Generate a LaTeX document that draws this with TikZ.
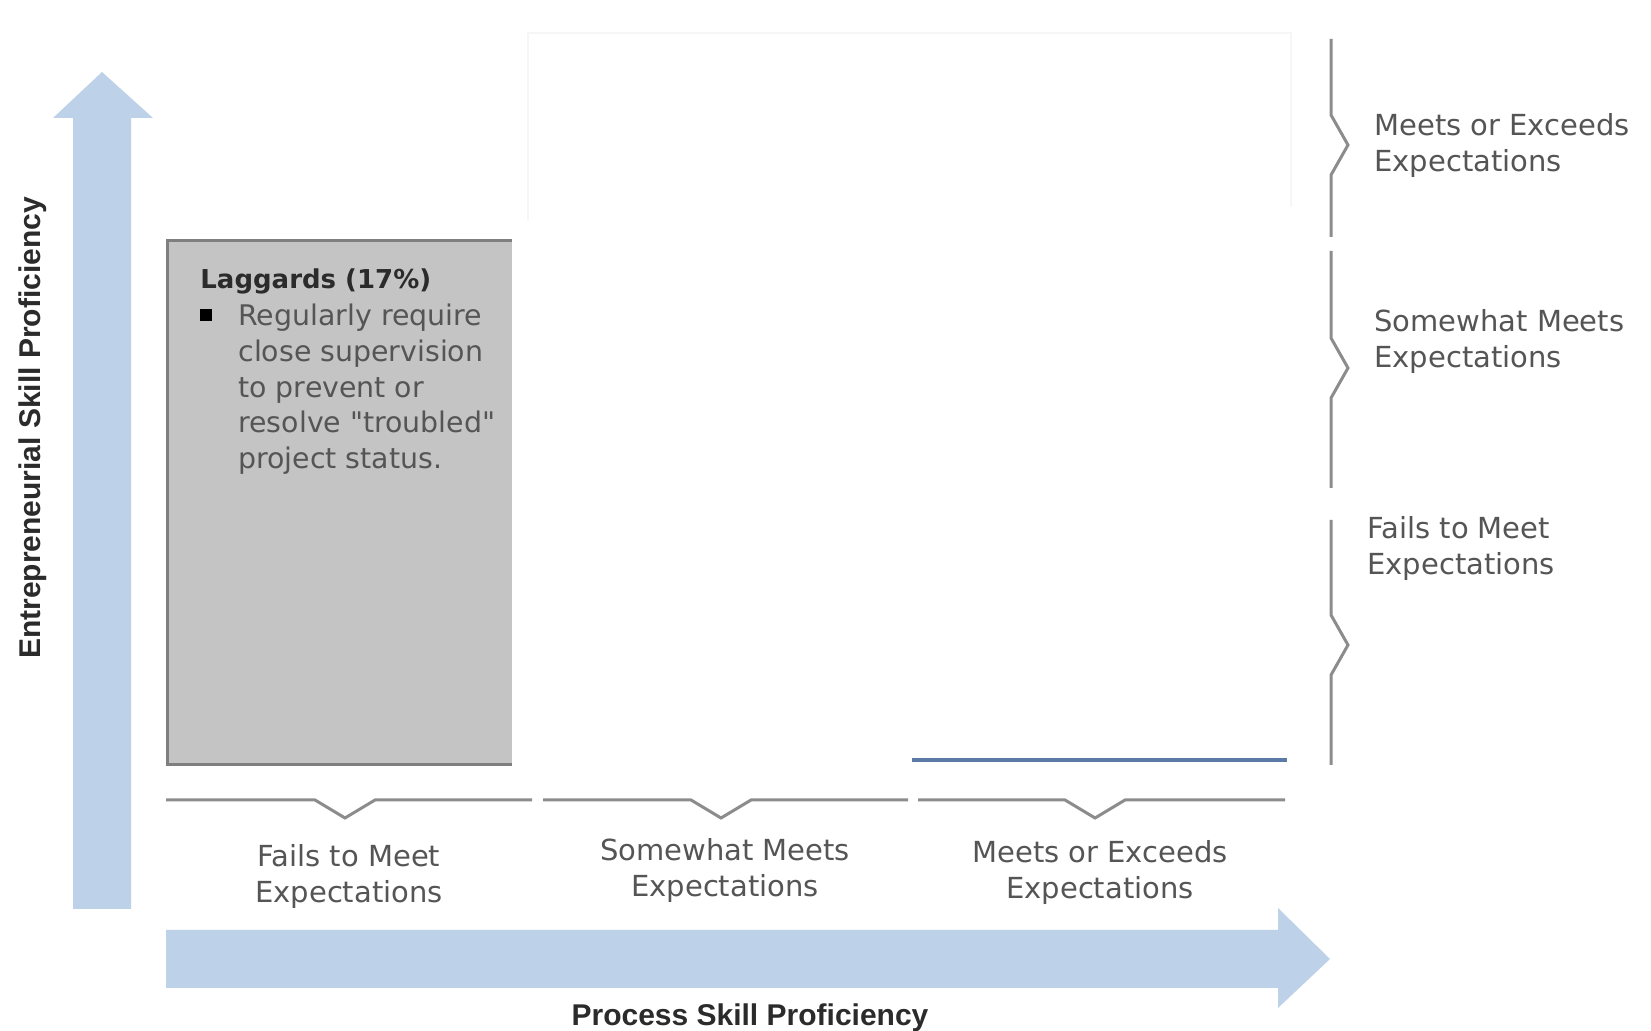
\documentclass[tikz,border=0pt]{standalone}
\usepackage{fontspec}
\setmainfont{DejaVu Sans}
\newfontfamily\axisfont{Liberation Sans}
\definecolor{axisblue}{HTML}{BDD1E9}
\definecolor{bracegray}{HTML}{8C8C8C}
\definecolor{boxfill}{HTML}{C4C4C4}
\definecolor{boxedge}{HTML}{7F7F7F}
\definecolor{labgray}{HTML}{555555}
\definecolor{darktext}{HTML}{2B2B2B}
\definecolor{steel}{HTML}{5B7BA6}
\definecolor{faint}{HTML}{F6F6F6}
\tikzset{
  axisarrow/.style={fill=axisblue, draw=none},
  bracket/.style={draw=bracegray, line width=1.5pt, line join=miter},
  scalelab/.style={text=labgray, font=\fontsize{14.5}{18}\selectfont, inner sep=0pt},
  axislab/.style={text=darktext, font=\axisfont\bfseries\fontsize{15}{18}\selectfont, inner sep=0pt},
}
\begin{document}
\begin{tikzpicture}[x=0.5pt, y=-0.5pt]
\useasboundingbox (0,0) rectangle (1651,1031);
\fill[white] (0,0) rectangle (1651,1031);

% faint outline of empty quadrants
\draw[faint, line width=0.8pt] (528,220) -- (528,33) -- (1291,33) -- (1291,207);

% vertical axis arrow
\fill[axisblue] (73,909) -- (73,118) -- (53,118) -- (102,72) -- (153,118) -- (131,118) -- (131,909) -- cycle;
% horizontal axis arrow
\fill[axisblue] (166,930) -- (1278,930) -- (1278,908) -- (1330,959) -- (1278,1008) -- (1278,988) -- (166,988) -- cycle;

\node[axislab, rotate=90] (ylab) at (33,428) {Entrepreneurial Skill Proficiency};
\node[axislab] (xlab) at (750,1018) {Process Skill Proficiency};

% laggards box
\fill[boxfill] (167,241) rectangle (512,765);
\draw[boxedge, line width=1.5pt] (512,241) -- (167,241) -- (167,765) -- (512,765);
\node[anchor=west, inner sep=0pt, text=darktext, font=\bfseries\fontsize{13}{17}\selectfont] (lag) at (200,281) {Laggards (17\%)};
\node[fill=black, inner sep=0pt, minimum size=6pt] (bul) at (206,315) {};
\node[anchor=north west, inner sep=0pt, text=labgray, align=left, font=\fontsize{14.2}{17.8}\selectfont] (lagtxt) at (238,304) {Regularly require\\close supervision\\to prevent or\\resolve \textquotedbl troubled\textquotedbl\\project status.};

% blue line
\draw[steel, line width=2pt] (912,760) -- (1287,760);

% bottom brackets
\draw[bracket] (166,800) -- (315,800) -- (345,818) -- (375,800) -- (532,800);
\draw[bracket] (543,800) -- (691,800) -- (721,818) -- (751,800) -- (908,800);
\draw[bracket] (918,800) -- (1065,800) -- (1095,818) -- (1125,800) -- (1285,800);

% right brackets
\draw[bracket] (1331,39) -- (1331,115) -- (1348,145) -- (1331,175) -- (1331,237);
\draw[bracket] (1331,251) -- (1331,338) -- (1348,368) -- (1331,398) -- (1331,488);
\draw[bracket] (1331,520) -- (1331,615) -- (1348,645) -- (1331,675) -- (1331,765);

% bottom labels
\node[scalelab, align=center] (b1) at (349,877) {Fails to Meet\\Expectations};
\node[scalelab, align=center] (b2) at (725,871) {Somewhat Meets\\Expectations};
\node[scalelab, align=center] (b3) at (1100,872) {Meets or Exceeds\\Expectations};

% right labels
\node[scalelab, align=left, anchor=west] (r1) at (1374,146) {Meets or Exceeds\\Expectations};
\node[scalelab, align=left, anchor=west] (r2) at (1374,342) {Somewhat Meets\\Expectations};
\node[scalelab, align=left, anchor=west] (r3) at (1367,549) {Fails to Meet\\Expectations};
\end{tikzpicture}
\end{document}
